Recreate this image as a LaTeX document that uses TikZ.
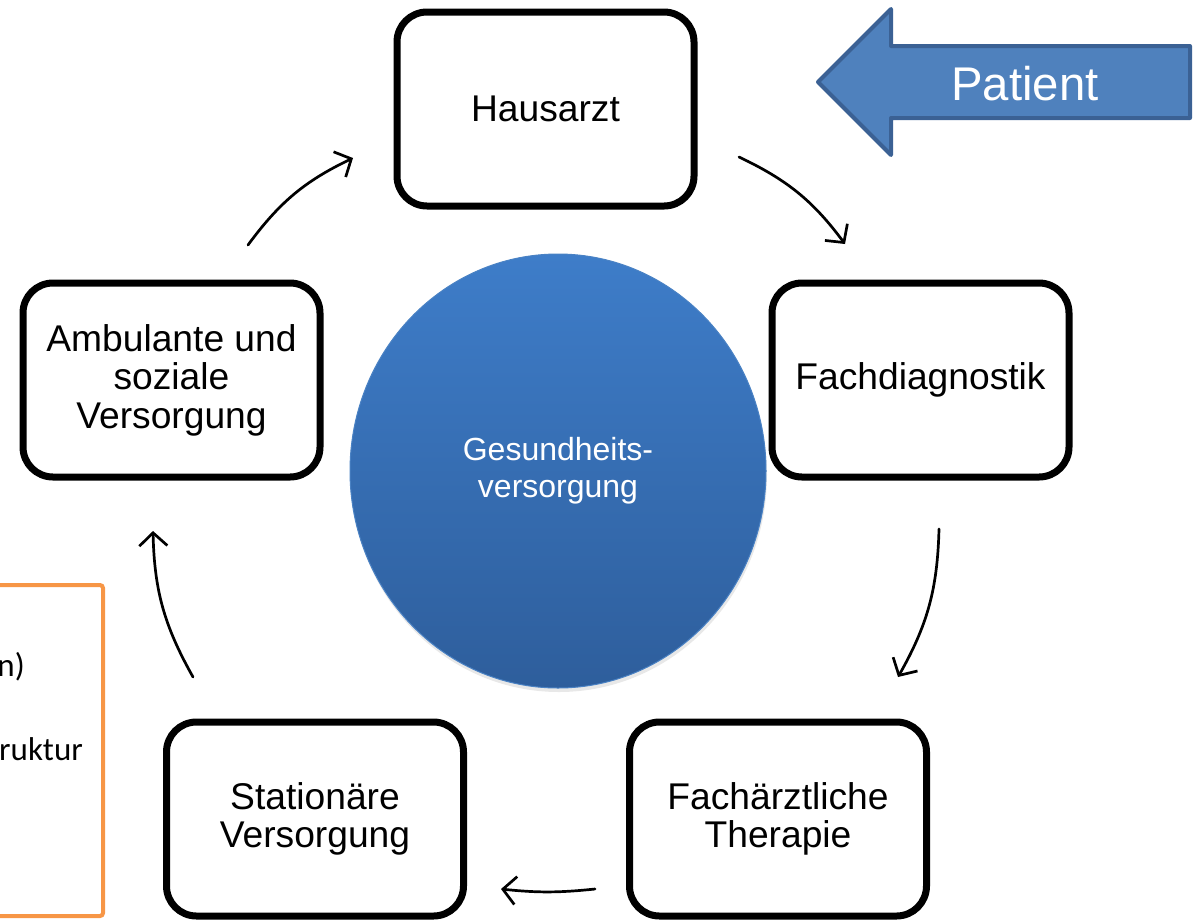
\documentclass[tikz,border=0pt]{standalone}
\usepackage{fontspec}
\setmainfont{Liberation Sans}
\newfontfamily\notefont{Carlito}
\usetikzlibrary{arrows.meta,shapes.geometric,shadows}

\definecolor{patfill}{HTML}{4F81BD}
\definecolor{patline}{HTML}{3B6194}
\definecolor{circtop}{HTML}{3E7DC9}
\definecolor{circbot}{HTML}{2E5E9C}
\definecolor{circedge}{HTML}{4A82C4}
\definecolor{noteline}{HTML}{F79646}

\begin{document}
\begin{tikzpicture}[x=1pt,y=1pt,
  stepbox/.style={draw=black, line width=7pt, rounded corners=30pt, fill=white,
    minimum width=297pt, minimum height=194pt, align=center, inner sep=0pt,
    font=\fontsize{37.2}{38.5}\selectfont,
    drop shadow={shadow xshift=2pt, shadow yshift=-3pt, opacity=0.22}},
  flow/.style={line width=2.7pt, line cap=round,
    -{Straight Barb[length=13pt, width=28pt, line width=2.7pt]}},
  notetext/.style={font=\notefont\fontsize{33}{36}\selectfont, inner sep=0pt}
]
\useasboundingbox (0,0) rectangle (1196,-922);

% note frame on the left, partly outside the page
\draw[noteline, line width=4pt, rounded corners=3pt] (-30,-585) rectangle (103,-916);
\node[notetext, anchor=base east] (note1) at (25,-676) {n)};
\node[notetext, anchor=base east] (note2) at (83,-760) {ruktur};

% central circle
\node[ellipse, minimum width=416pt, minimum height=434pt, inner sep=0pt,
  top color=circtop, bottom color=circbot, draw=circedge, line width=1pt,
  drop shadow={shadow xshift=1pt, shadow yshift=-4pt, opacity=0.18},
  text=white, align=center, font=\fontsize{32}{37}\selectfont]
  (core) at (558,-471) {Gesundheits-\\versorgung};

% the five stations of care
\node[stepbox] (haus)  at (545.5,-109) {Hausarzt};
\node[stepbox] (diag)  at (920.5,-380) {Fachdiagnostik};
\node[stepbox] (ther)  at (778,-819)   {Fachärztliche\\Therapie};
\node[stepbox] (stat)  at (315,-819)   {Stationäre\\Versorgung};
\node[stepbox] (amb)   at (171.5,-380) {Ambulante und\\soziale\\Versorgung};

% entry arrow
\draw[fill=patfill, draw=patline, line width=4pt, line join=round]
  (818,-82) -- (891,-9) -- (891,-46) -- (1190,-46) -- (1190,-118)
  -- (891,-118) -- (891,-155) -- cycle;
\node[text=white, font=\fontsize{47.3}{50}\selectfont] (patient) at (1025,-84) {Patient};

% cycle arrows
\coordinate (c1s) at (248,-245); \coordinate (c1e) at (353,-158);
\coordinate (c2s) at (739,-157); \coordinate (c2e) at (845,-244);
\coordinate (c3s) at (939,-529); \coordinate (c3e) at (898,-677);
\coordinate (c4s) at (595,-889); \coordinate (c4e) at (501,-889);
\coordinate (c5s) at (193,-677); \coordinate (c5e) at (153,-531);

\draw[flow] (c1s) to[bend left=14] (c1e);
\draw[flow] (c2s) to[bend left=14] (c2e);
\draw[flow] (c3s) to[bend left=14] (c3e);
\draw[flow] (c4s) to[bend left=6]  (c4e);
\draw[flow] (c5s) to[bend left=14] (c5e);
\end{tikzpicture}
\end{document}
